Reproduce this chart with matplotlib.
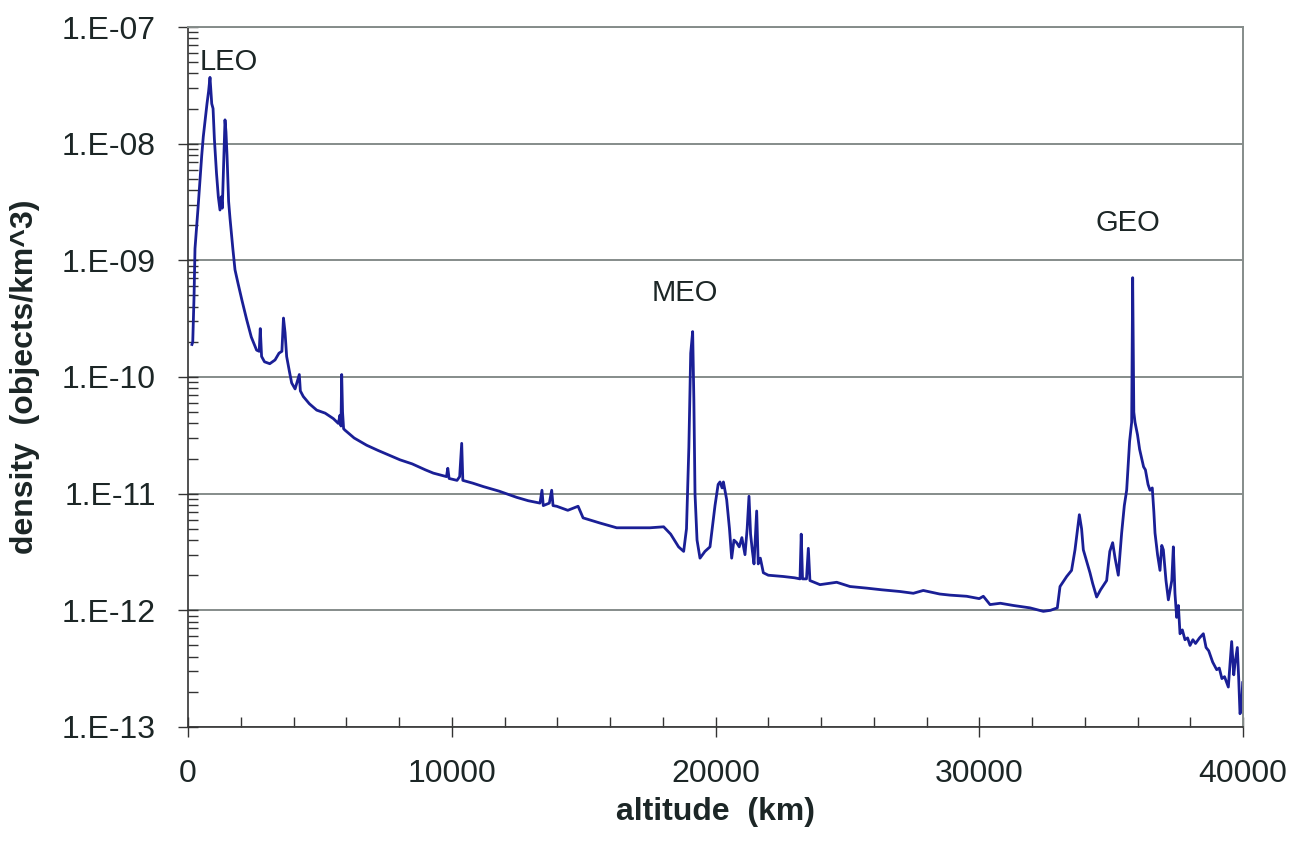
import matplotlib.pyplot as plt
from matplotlib.ticker import FixedLocator, LogLocator, NullFormatter

# altitude (km) and spatial density (objects/km^3)
altitude_km = [
    150, 180, 230, 265, 300, 380, 455, 520, 580, 650, 720, 780, 834, 870, 900, 950,
    1000, 1080, 1150, 1213, 1260, 1300, 1360, 1403, 1440, 1480, 1540, 1592, 1700, 1782,
    1900, 2050, 2225, 2400, 2600, 2700, 2740, 2790, 2900, 3100, 3300, 3450, 3560, 3620,
    3680, 3740, 3850, 3930, 4060, 4220, 4260, 4372, 4600, 4880, 5200, 5510, 5700, 5760,
    5800, 5827, 5860, 5900, 5953, 6300, 6775, 7200, 7600, 8038, 8500, 9000, 9302, 9800,
    9850, 9900, 10200, 10300, 10377, 10420, 10800, 11197, 11800, 12460, 12900, 13346,
    13420, 13470, 13700, 13789, 13840, 13978, 14400, 14790, 14980, 15621, 16253, 16885,
    17517, 18034, 18300, 18600, 18793, 18900, 18990, 19060, 19134, 19180, 19223, 19300,
    19412, 19600, 19791, 19900, 19981, 20100, 20170, 20250, 20300, 20423, 20530, 20613,
    20700, 20803, 20900, 21000, 21118, 21200, 21270, 21330, 21400, 21460, 21561, 21620,
    21700, 21814, 22000, 22572, 23000, 23204, 23250, 23300, 23450, 23520, 23580, 23962,
    24595, 25100, 25731, 26300, 26995, 27500, 27878, 28500, 28890, 29522, 30000, 30155,
    30408, 30800, 31300, 31924, 32430, 32700, 32960, 33062, 33315, 33500, 33630, 33795,
    33880, 33946, 34100, 34198, 34300, 34451, 34600, 34830, 34950, 35058, 35150, 35272,
    35399, 35500, 35589, 35700, 35779, 35817, 35860, 35905, 36000, 36080, 36158, 36230,
    36300, 36400, 36474, 36560, 36620, 36664, 36760, 36853, 36920, 36980, 37080, 37170,
    37300, 37359, 37420, 37485, 37550, 37612, 37700, 37800, 37900, 37991, 38100, 38200,
    38350, 38496, 38600, 38700, 38850, 39002, 39100, 39200, 39300, 39444, 39570, 39650,
    39696, 39785, 39840, 39886, 39940, 39987,
]
density = [
    1.9e-10, 2.0e-10, 5.0e-10, 1.26e-9, 1.6e-9, 2.8e-9, 4.9e-9, 7.9e-9, 1.15e-8, 1.6e-8,
    2.2e-8, 2.8e-8, 3.7e-8, 2.8e-8, 2.2e-8, 2.0e-8, 1.1e-8, 5.6e-9, 3.5e-9, 2.7e-9,
    3.5e-9, 2.8e-9, 7.9e-9, 1.6e-8, 1.26e-8, 7.9e-9, 3.2e-9, 2.3e-9, 1.26e-9, 8.3e-10,
    6.3e-10, 4.5e-10, 3.1e-10, 2.2e-10, 1.7e-10, 1.66e-10, 2.6e-10, 1.5e-10, 1.35e-10,
    1.3e-10, 1.4e-10, 1.6e-10, 1.66e-10, 3.2e-10, 2.4e-10, 1.5e-10, 1.1e-10, 8.9e-11,
    7.9e-11, 1.05e-10, 7.6e-11, 6.8e-11, 5.9e-11, 5.2e-11, 4.9e-11, 4.4e-11, 4.0e-11,
    4.7e-11, 3.8e-11, 1.05e-10, 5.0e-11, 3.6e-11, 3.5e-11, 3.0e-11, 2.6e-11, 2.35e-11,
    2.15e-11, 1.95e-11, 1.8e-11, 1.6e-11, 1.5e-11, 1.4e-11, 1.65e-11, 1.35e-11, 1.3e-11,
    1.4e-11, 2.7e-11, 1.3e-11, 1.23e-11, 1.15e-11, 1.05e-11, 9.3e-12, 8.7e-12, 8.3e-12,
    1.07e-11, 7.9e-12, 8.3e-12, 1.07e-11, 7.9e-12, 7.8e-12, 7.2e-12, 7.8e-12, 6.2e-12,
    5.6e-12, 5.1e-12, 5.1e-12, 5.1e-12, 5.2e-12, 4.5e-12, 3.5e-12, 3.2e-12, 5.0e-12,
    2.5e-11, 1.6e-10, 2.45e-10, 6.3e-11, 1.0e-11, 4.0e-12, 2.8e-12, 3.2e-12, 3.5e-12,
    5.6e-12, 7.9e-12, 1.2e-11, 1.26e-11, 1.12e-11, 1.26e-11, 8.9e-12, 5.0e-12, 2.8e-12,
    4.0e-12, 3.8e-12, 3.5e-12, 4.2e-12, 3.0e-12, 5.0e-12, 9.5e-12, 4.5e-12, 3.2e-12,
    2.5e-12, 7.1e-12, 2.5e-12, 2.8e-12, 2.1e-12, 2.0e-12, 1.95e-12, 1.9e-12, 1.86e-12,
    4.5e-12, 1.86e-12, 1.86e-12, 3.4e-12, 1.8e-12, 1.66e-12, 1.74e-12, 1.6e-12, 1.55e-12,
    1.5e-12, 1.45e-12, 1.4e-12, 1.48e-12, 1.38e-12, 1.35e-12, 1.32e-12, 1.26e-12,
    1.32e-12, 1.12e-12, 1.15e-12, 1.1e-12, 1.05e-12, 9.8e-13, 1.0e-12, 1.05e-12, 1.6e-12,
    1.95e-12, 2.2e-12, 3.3e-12, 6.6e-12, 5.0e-12, 3.3e-12, 2.5e-12, 2.1e-12, 1.7e-12,
    1.3e-12, 1.5e-12, 1.8e-12, 3.2e-12, 3.8e-12, 2.8e-12, 2.0e-12, 4.6e-12, 7.9e-12,
    1.07e-11, 2.8e-11, 4.1e-11, 7.1e-10, 5.0e-11, 4.1e-11, 3.2e-11, 2.4e-11, 2.0e-11,
    1.7e-11, 1.6e-11, 1.2e-11, 1.07e-11, 1.12e-11, 7.0e-12, 4.6e-12, 3.0e-12, 2.2e-12,
    3.6e-12, 3.3e-12, 1.8e-12, 1.23e-12, 1.8e-12, 3.5e-12, 1.4e-12, 8.7e-13, 1.1e-12,
    6.3e-13, 6.8e-13, 5.6e-13, 5.8e-13, 5.0e-13, 5.6e-13, 5.2e-13, 5.8e-13, 6.3e-13,
    4.8e-13, 4.5e-13, 3.6e-13, 3.1e-13, 3.2e-13, 2.6e-13, 2.7e-13, 2.2e-13, 5.4e-13,
    2.8e-13, 3.5e-13, 4.8e-13, 2.5e-13, 1.3e-13, 1.4e-13, 2.4e-13,
]

regime_labels = ["LEO", "MEO", "GEO"]
regime_x = [455, 17590, 34390]
regime_y = [5.0e-8, 5.2e-10, 2.1e-9]

y_ticks = [1e-13, 1e-12, 1e-11, 1e-10, 1e-9, 1e-8, 1e-7]
y_tick_labels = ["1.E-13", "1.E-12", "1.E-11", "1.E-10", "1.E-09", "1.E-08", "1.E-07"]
x_ticks = [0, 10000, 20000, 30000, 40000]

plt.rcParams["font.family"] = ["Liberation Sans", "DejaVu Sans"]
txt = "#1c2626"
gridc = "#858c8a"

fig = plt.figure(figsize=(12.96, 8.51), dpi=100)
ax = fig.add_axes([188 / 1296, 1 - 727 / 851, (1243 - 188) / 1296, 700 / 851])

ax.plot(altitude_km, density, color="#1a1f96", linewidth=2.0)

ax.set_yscale("log")
ax.set_xlim(0, 40000)
ax.set_ylim(1e-13, 1e-7)

ax.set_yticks(y_ticks)
ax.set_yticklabels(y_tick_labels)
ax.yaxis.set_minor_locator(LogLocator(base=10, subs=range(2, 10)))
ax.yaxis.set_minor_formatter(NullFormatter())
ax.set_xticks(x_ticks)
ax.set_xticklabels([str(v) for v in x_ticks])
ax.xaxis.set_minor_locator(FixedLocator(range(0, 40001, 2000)))

ax.tick_params(axis="both", which="major", labelsize=23, colors="#333333",
               labelcolor=txt, direction="inout", length=14, width=1)
ax.tick_params(axis="both", which="minor", direction="in", length=7, width=1,
               colors="#333333")
ax.tick_params(axis="y", which="major", pad=16)
ax.tick_params(axis="x", which="major", pad=16)

ax.grid(True, axis="y", which="major", color=gridc, linewidth=1.4)
for side in ["top", "right"]:
    ax.spines[side].set_color(gridc)
    ax.spines[side].set_linewidth(1.4)
for side in ["left", "bottom"]:
    ax.spines[side].set_color("#333333")
    ax.spines[side].set_linewidth(1.2)

for lab, x, y in zip(regime_labels, regime_x, regime_y):
    ax.text(x, y, lab, fontsize=21, color=txt, ha="left", va="center")

ax.set_xlabel("altitude  (km)", fontsize=23, fontweight="bold", color=txt,
              labelpad=6)
ax.set_ylabel("density  (objects/km^3)", fontsize=23, fontweight="bold",
              color=txt, labelpad=16)

fig.savefig("out.png", dpi=100)
